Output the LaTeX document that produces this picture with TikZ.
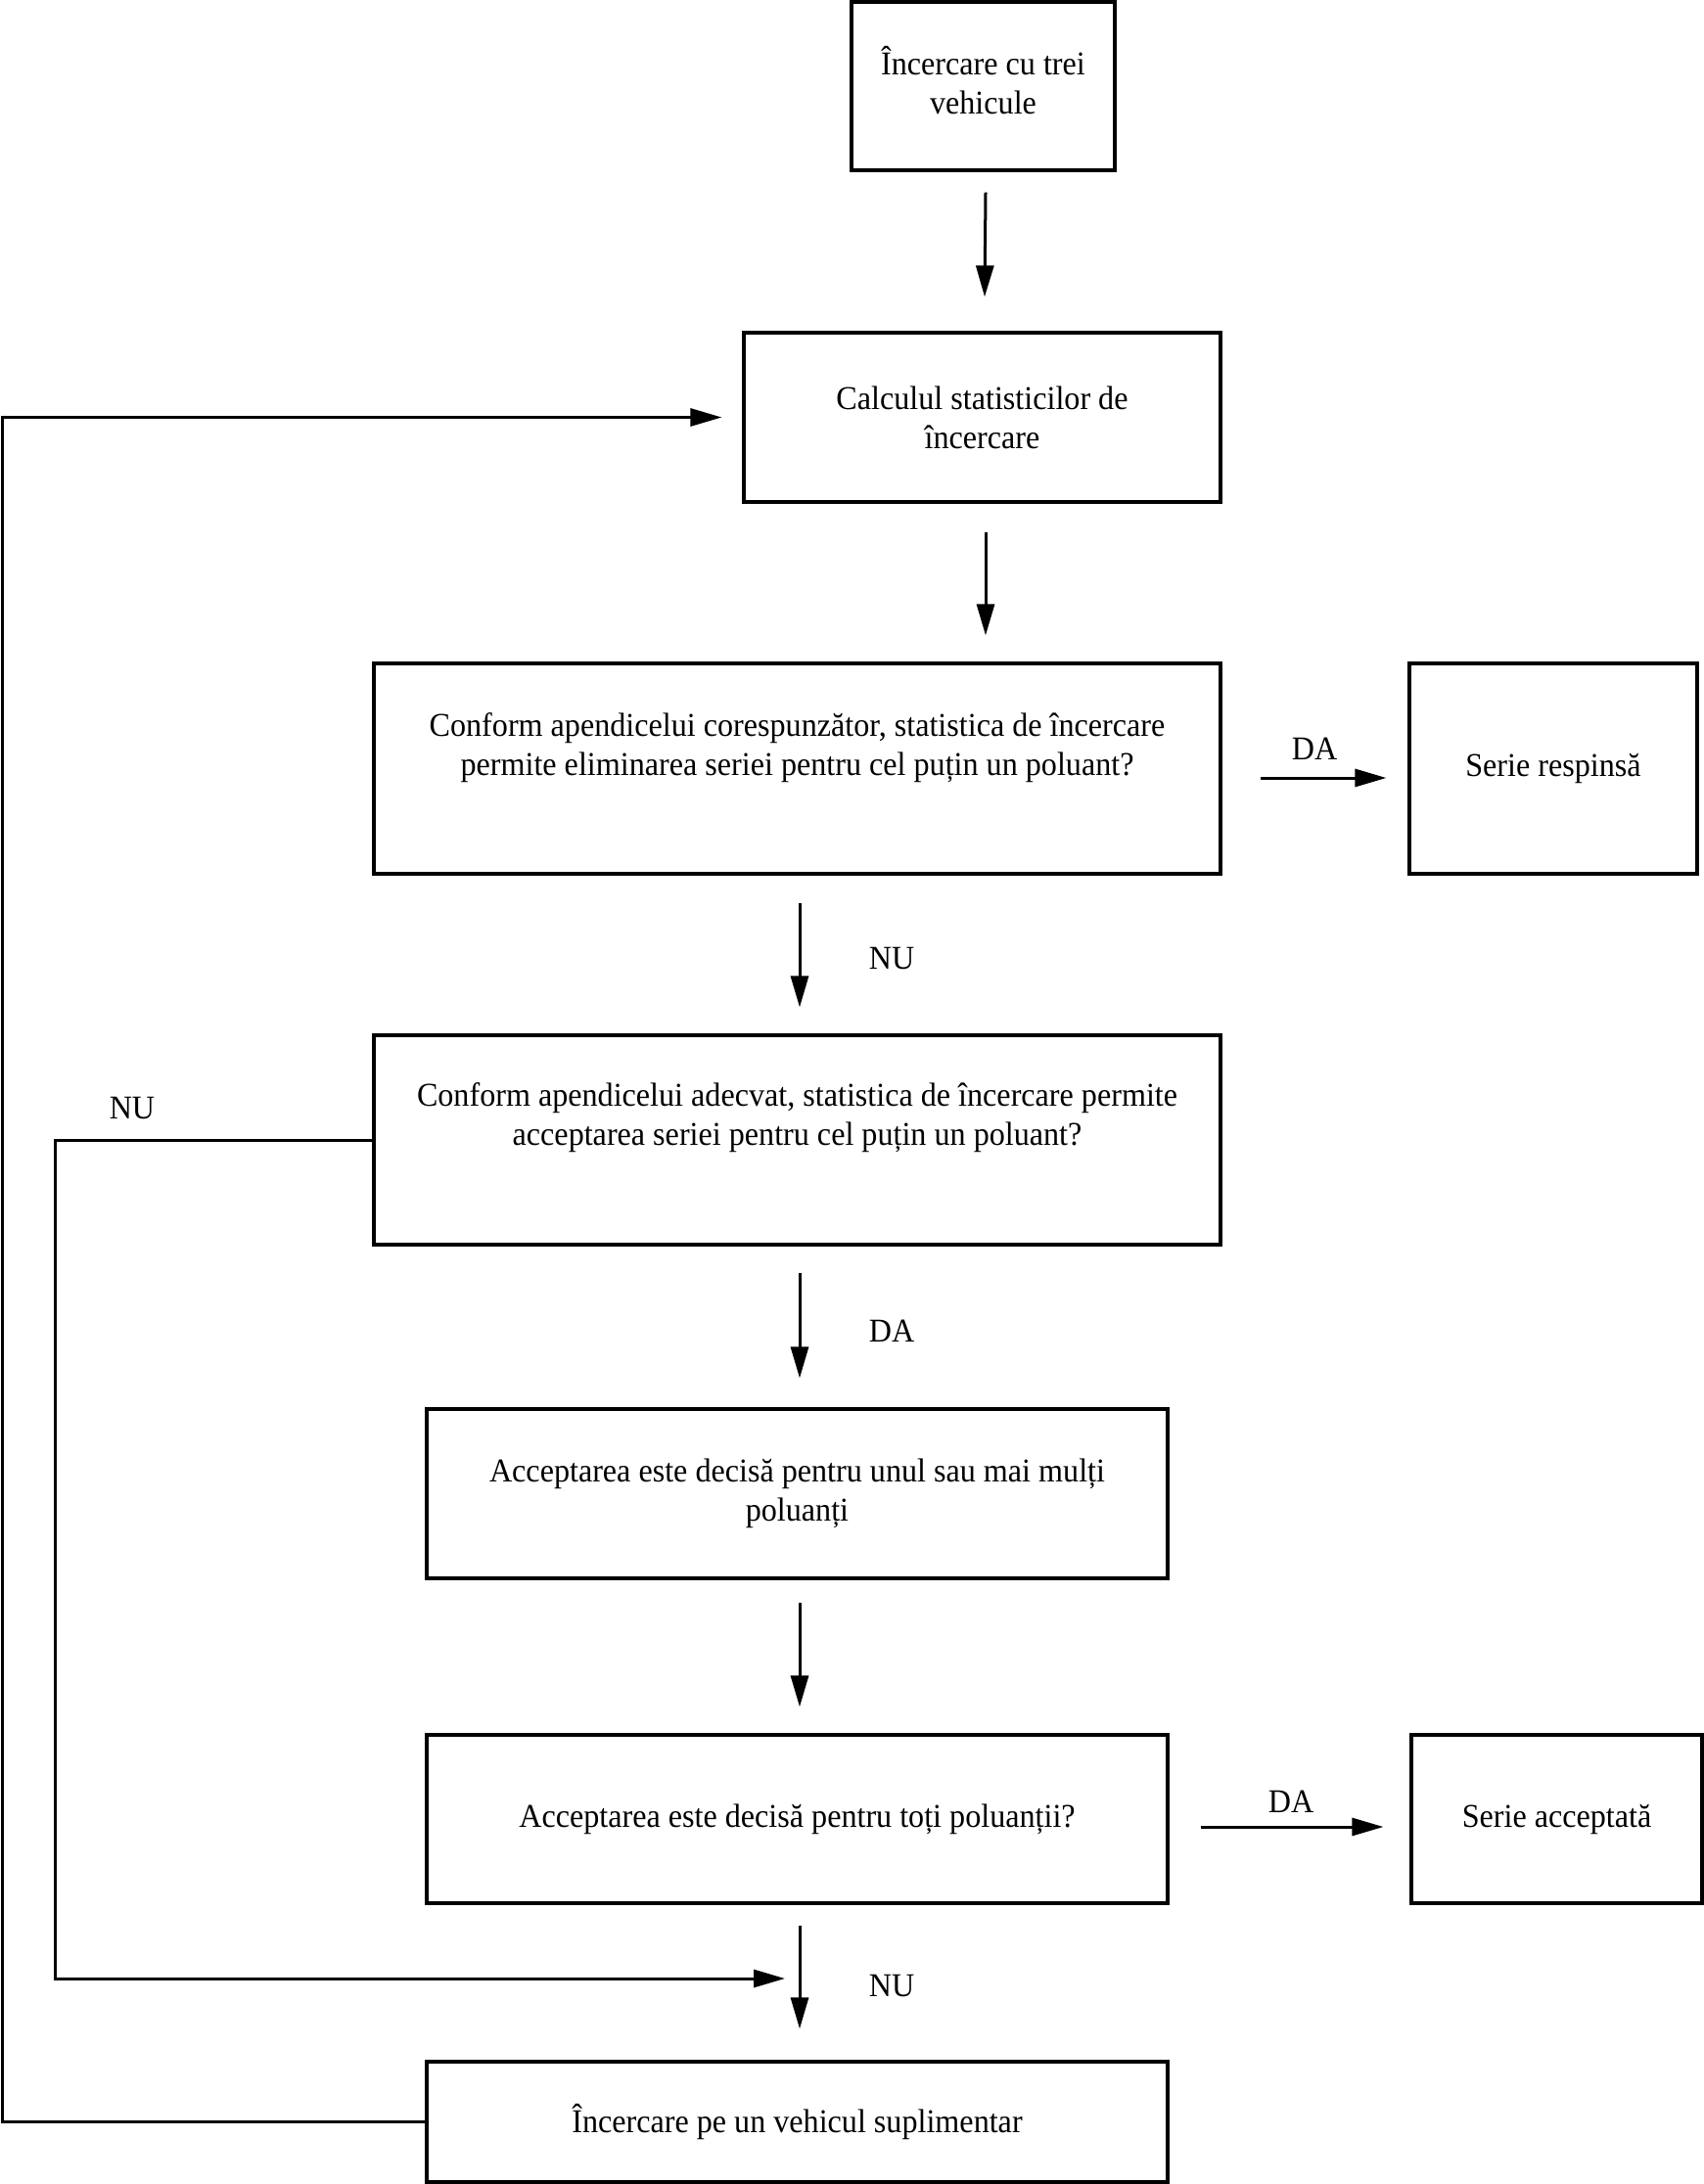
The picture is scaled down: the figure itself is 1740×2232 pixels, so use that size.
\documentclass[tikz,border=0pt]{standalone}
\usepackage{fontspec}
\setmainfont{Liberation Serif}[FakeStretch=0.945]
\usetikzlibrary{arrows.meta}
\newcommand\fs{\fontsize{17}{20}\selectfont}
\begin{document}
\begin{tikzpicture}[x=0.5pt,y=-0.5pt,
  box/.style={draw,line width=1.6pt,inner sep=0pt,align=center,font=\fs},
  txt/.style={inner sep=0pt,align=center,font=\fs},
  arr/.style={line width=1.5pt,-{Triangle[length=16pt,width=9pt]}},
  lbl/.style={inner sep=0pt,font=\fs}]
\useasboundingbox (0,0) rectangle (1740,2232);

\node[box,minimum width=134.5pt,minimum height=86pt] (b1) at (1004.5,88) {};
\node[txt] (t1) at (1004.5,82) {Încercare cu trei\\vehicule};
\node[box,minimum width=243.5pt,minimum height=86.5pt] (b2) at (1003.5,426.5) {Calculul statisticilor de\\încercare};
\node[box,minimum width=432.5pt,minimum height=107.5pt] (b3) at (814.5,785.5) {};
\node[txt] (t3) at (814.5,764) {Conform apendicelui corespunzător, statistica de încercare\\permite eliminarea seriei pentru cel puțin un poluant?};
\node[box,minimum width=147pt,minimum height=107.5pt] (resp) at (1587,785.5) {Serie respinsă};
\node[box,minimum width=432.5pt,minimum height=107pt] (b4) at (814.5,1165) {};
\node[txt] (t4) at (814.5,1142) {Conform apendicelui adecvat, statistica de încercare permite\\acceptarea seriei pentru cel puțin un poluant?};
\node[box,minimum width=378.5pt,minimum height=86.5pt] (b5) at (814.5,1526.5) {Acceptarea este decisă pentru unul sau mai mulți\\poluanți};
\node[box,minimum width=378.5pt,minimum height=86pt] (b6) at (814.5,1859) {Acceptarea este decisă pentru toți poluanții?};
\node[box,minimum width=148.5pt,minimum height=86pt] (acc) at (1590.5,1859) {Serie acceptată};
\node[box,minimum width=378.5pt,minimum height=61.5pt] (b7) at (814.5,2168.5) {Încercare pe un vehicul suplimentar};

\node[lbl] (da1) at (1343,765) {DA};
\node[lbl] (nu1) at (911,980) {NU};
\node[lbl] (nu2) at (135,1133) {NU};
\node[lbl] (da2) at (911,1360) {DA};
\node[lbl] (da3) at (1319,1841) {DA};
\node[lbl] (nu3) at (911,2030) {NU};

\draw[arr] ([shift={(2.5,21)}]b1.south) -- ([shift={(2.5,-35)}]b2.north);
\draw[arr] ([shift={(3.5,29)}]b2.south) -- ([shift={(3.5,-27)}]b2.south |- b3.north);
\draw[arr] ([shift={(2.5,28)}]b3.south) -- ([shift={(2.5,-27)}]b4.north);
\draw[arr] ([shift={(2.5,27)}]b4.south) -- ([shift={(2.5,-30)}]b5.north);
\draw[arr] ([shift={(2.5,23)}]b5.south) -- ([shift={(2.5,-27)}]b6.north);
\draw[arr] ([shift={(2.5,21)}]b6.south) -- ([shift={(2.5,-32)}]b7.north);
\draw[arr] ([shift={(39,9.5)}]b3.east) -- ([shift={(-22,9.5)}]resp.west);
\draw[arr] ([shift={(32,8)}]b6.east) -- ([shift={(-27,8)}]acc.west);

\coordinate (k1) at (56,1168);
\coordinate (nuend) at (802,2022);
\draw[arr] (b4.west) -- (b4.west -| k1) |- (nuend);
\coordinate (k2) at (2,2173);
\draw[arr] (b7.west) -- (b7.west -| k2) |- ([xshift=-10.5pt]b2.west);
\end{tikzpicture}
\end{document}
